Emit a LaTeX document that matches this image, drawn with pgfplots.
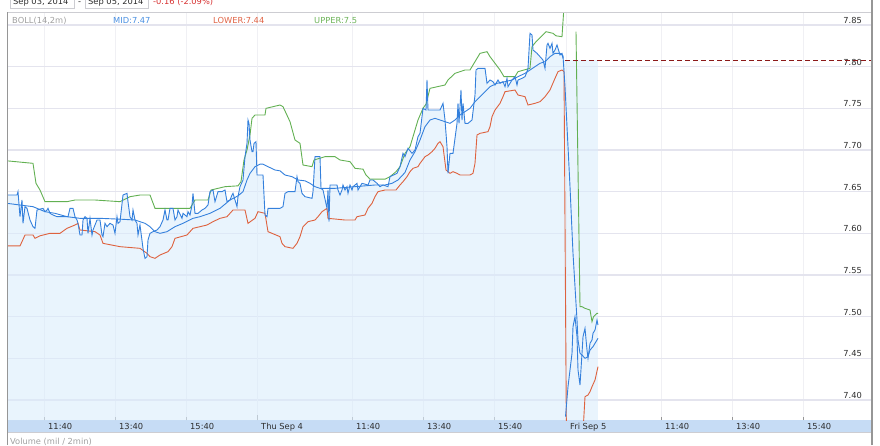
\documentclass[border=0pt]{standalone}
\usepackage{fontspec}
\setmainfont{DejaVu Sans}
\usepackage{pgfplots}
\usepackage{pgfplotstable}
\pgfplotsset{compat=1.18}

\definecolor{midblue}{RGB}{52,128,220}
\definecolor{lowred}{RGB}{222,98,62}
\definecolor{upgreen}{RGB}{98,176,82}
\definecolor{areafill}{RGB}{218,236,252}
\definecolor{hgrid}{RGB}{228,228,238}
\definecolor{vgrid}{RGB}{240,240,244}
\definecolor{dgrid}{RGB}{225,225,232}
\definecolor{band}{RGB}{198,220,245}
\definecolor{prevclose}{RGB}{140,25,25}
\definecolor{txt}{RGB}{45,45,45}
\definecolor{lgray}{RGB}{160,160,160}
\definecolor{borderc}{RGB}{150,150,150}
\definecolor{linec}{RGB}{205,205,210}
\definecolor{negred}{RGB}{215,50,50}
\definecolor{legblue}{RGB}{74,144,226}
\definecolor{legred}{RGB}{224,100,70}
\definecolor{leggreen}{RGB}{110,180,90}

% x = position on the compressed time axis (px), y = price
\pgfplotstableread{
x y
7 7.687
33 7.684
36 7.660
40 7.652
45 7.638
67 7.638
75 7.640
95 7.640
120 7.638
130 7.644
140 7.646
150 7.646
155 7.630
190 7.630
195 7.640
208 7.640
211 7.652
225 7.656
238 7.657
241 7.662
244 7.688
247 7.700
250 7.718
252 7.738
255 7.742
265 7.742
266 7.750
280 7.754
283 7.752
290 7.734
295 7.712
300 7.708
303 7.682
312 7.680
314 7.688
325 7.692
335 7.692
340 7.688
350 7.686
355 7.678
363 7.677
366 7.670
370 7.665
385 7.665
390 7.668
396 7.674
400 7.680
405 7.696
410 7.704
413 7.716
418 7.736
423 7.750
426 7.755
430 7.774
445 7.778
448 7.784
455 7.792
465 7.796
470 7.796
475 7.806
480 7.816
487 7.818
490 7.812
495 7.804
500 7.796
504 7.788
515 7.788
518 7.794
530 7.798
532 7.824
536 7.830
541 7.836
546 7.842
553 7.840
556 7.837
562 7.836
565.5 7.900
570 nan
576 7.842
580 7.512
582 7.512
585 7.510
590 7.508
592 7.494
593.5 7.500
597 7.504
598 7.504
}\tabupper

\pgfplotstableread{
x y
7 7.585
20 7.585
22 7.590
25 7.598
33 7.598
35 7.594
40 7.597
50 7.600
60 7.600
67 7.606
75 7.610
78 7.612
80 7.604
95 7.602
100 7.598
103 7.588
120 7.584
140 7.582
147 7.576
150 7.572
155 7.570
160 7.574
168 7.578
172 7.584
175 7.594
187 7.598
193 7.606
200 7.608
207 7.610
213 7.614
220 7.618
227 7.620
233 7.628
245 7.628
248 7.612
255 7.618
258 7.626
265 7.624
268 7.602
280 7.596
282 7.588
285 7.584
293 7.582
297 7.588
300 7.596
303 7.608
308 7.614
315 7.616
318 7.620
322 7.626
327 7.630
328 7.618
345 7.616
355 7.616
357 7.620
365 7.622
368 7.630
372 7.636
375 7.644
378 7.650
385 7.652
396 7.652
400 7.658
403 7.662
407 7.668
410 7.674
413 7.678
418 7.680
420 7.684
425 7.692
428 7.694
432 7.698
435 7.702
438 7.708
440 7.710
443 7.704
446 7.676
450 7.672
453 7.674
457 7.672
460 7.670
470 7.670
473 7.672
475 7.684
477 7.718
480 7.720
488 7.722
490 7.728
492 7.740
495 7.748
500 7.756
503 7.764
505 7.770
515 7.772
518 7.766
525 7.764
528 7.754
535 7.756
540 7.758
545 7.764
550 7.772
555 7.786
558 7.794
562 7.796
564 7.794
566.5 7.340
570 nan
582 7.340
585 7.404
588 7.406
590 7.410
592 7.416
595 7.424
598 7.440
}\tablower

\pgfplotstableread{
x y
7 7.636
20 7.634
33 7.632
45 7.626
55 7.624
67 7.620
80 7.618
100 7.618
120 7.617
135 7.616
145 7.612
150 7.608
155 7.602
160 7.600
167 7.602
175 7.608
183 7.612
193 7.618
200 7.620
210 7.624
220 7.630
230 7.640
238 7.645
243 7.650
247 7.664
250 7.672
255 7.680
260 7.683
263 7.683
268 7.680
275 7.676
280 7.675
285 7.670
292 7.668
298 7.664
305 7.663
310 7.660
315 7.656
320 7.654
335 7.654
355 7.656
365 7.657
375 7.658
385 7.658
392 7.660
398 7.664
405 7.673
410 7.688
415 7.698
420 7.712
425 7.728
430 7.736
435 7.738
440 7.736
450 7.732
455 7.736
460 7.742
465 7.746
470 7.750
475 7.758
480 7.764
485 7.770
490 7.776
497 7.780
505 7.782
512 7.784
518 7.788
525 7.792
530 7.796
535 7.800
540 7.804
545 7.806
550 7.812
555 7.816
560 7.816
563 7.813
565 7.776
570 7.656
573 7.576
577 7.496
578 7.472
580 7.456
582 7.454
585 7.450
588 7.452
590 7.460
593 7.464
595 7.468
598 7.474
}\tabmid

\pgfplotstableread{
x y
7 7.646
17 7.646
18 7.650
20 7.620
22 7.640
23 7.612
25 7.632
27 7.630
30 7.616
33 7.608
35 7.606
37 7.628
43 7.630
45 7.626
47 7.628
48 7.630
50 7.624
53 7.622
57 7.620
68 7.620
70 7.630
73 7.630
75 7.620
77 7.616
78 7.612
80 7.598
82 7.598
83 7.616
85 7.620
87 7.618
88 7.600
90 7.618
92 7.598
93 7.604
97 7.616
100 7.616
102 7.598
103 7.596
105 7.612
107 7.608
110 7.612
113 7.610
115 7.600
117 7.620
118 7.612
120 7.614
123 7.646
127 7.648
128 7.638
130 7.620
132 7.616
133 7.628
135 7.616
137 7.612
138 7.598
140 7.610
143 7.582
145 7.570
147 7.572
148 7.592
150 7.600
153 7.602
157 7.604
160 7.608
163 7.616
165 7.628
167 7.616
168 7.616
170 7.630
173 7.630
175 7.616
177 7.620
178 7.628
182 7.618
183 7.624
187 7.620
188 7.626
190 7.622
192 7.634
193 7.648
195 7.624
198 7.624
202 7.628
205 7.630
208 7.634
210 7.650
213 7.652
215 7.638
218 7.650
222 7.650
225 7.652
227 7.638
230 7.640
232 7.646
233 7.648
237 7.632
238 7.644
240 7.656
243 7.664
245 7.692
247 7.708
248 7.736
249 7.732
250 7.712
252 7.698
253 7.698
254 7.708
256 7.710
257 7.670
263 7.670
265 7.622
267 7.620
268 7.630
280 7.630
283 7.632
285 7.648
288 7.650
295 7.650
297 7.668
298 7.662
300 7.660
302 7.648
305 7.644
312 7.642
313 7.650
315 7.692
320 7.692
321 7.654
323 7.652
327 7.630
328 7.652
329 7.614
330 7.658
337 7.658
338 7.652
340 7.646
342 7.652
343 7.658
345 7.652
347 7.656
348 7.648
350 7.658
352 7.652
353 7.656
357 7.660
358 7.652
362 7.660
368 7.658
370 7.664
373 7.664
377 7.660
380 7.656
383 7.658
388 7.656
390 7.668
397 7.672
400 7.680
403 7.696
405 7.692
408 7.702
412 7.696
415 7.700
418 7.716
420 7.720
422 7.740
423 7.750
426 7.748
427 7.784
428 7.748
440 7.748
443 7.756
445 7.736
447 7.704
448 7.672
450 7.696
453 7.696
457 7.732
458 7.756
459 7.732
461 7.772
462 7.736
463 7.756
465 7.732
468 7.732
472 7.736
475 7.766
476 7.796
478 7.798
485 7.798
487 7.780
490 7.784
493 7.782
495 7.778
498 7.784
500 7.780
503 7.782
505 7.776
507 7.786
508 7.776
512 7.784
515 7.788
517 7.778
518 7.784
522 7.786
525 7.788
527 7.794
528 7.798
530 7.840
532 7.838
533 7.820
537 7.816
540 7.812
543 7.808
545 7.798
547 7.826
548 7.828
550 7.822
552 7.828
553 7.816
555 7.820
557 7.826
558 7.822
560 7.814
562 7.816
563 7.810
}\tabprice

\pgfplotstableread{
x y
565.5 7.380
568 7.416
572 7.456
573 7.488
575 7.500
577 7.476
578 7.436
580 7.418
582 7.456
583 7.476
585 7.486
587 7.460
588 7.450
590 7.468
592 7.472
593 7.480
595 7.484
597 7.496
598 7.490
}\tabpricec

\begin{document}
\begin{tikzpicture}[x=1pt,y=1pt,font=\fontsize{8.3}{9.6}\selectfont]
\useasboundingbox (0,0) rectangle (880,445);
\fill[band] (7,13) rectangle (872,25);
\begin{axis}[
  at={(7pt,25pt)}, anchor=south west,
  scale only axis, width=865pt, height=408pt,
  xmin=7, xmax=872, ymin=7.376, ymax=7.8656,
  axis line style={draw=none},
  xtick={44,115,186,352,423,494,661,732,803},
  xticklabels={11:40,13:40,15:40,11:40,13:40,15:40,11:40,13:40,15:40},
  extra x ticks={257,566},
  extra x tick labels={Thu Sep 4,Fri Sep 5},
  extra x tick style={major tick length=5pt, grid=major, major grid style={dgrid, line width=0.7pt}},
  xtick pos=bottom, tick align=inside, major tick length=3pt,
  xtick style={borderc, line width=0.6pt},
  xmajorgrids, x grid style={vgrid, line width=0.6pt},
  ytick={7.40,7.45,7.50,7.55,7.60,7.65,7.70,7.75,7.80,7.85},
  yticklabels={7.40,7.45,7.50,7.55,7.60,7.65,7.70,7.75,7.80,7.85},
  ymajorgrids, y grid style={hgrid, line width=1.2pt},
  ytick pos=right, yticklabel pos=right, ytick style={draw=none},
  yticklabel style={anchor=base east, inner sep=0pt, xshift=-10pt, yshift=1.5pt, text=txt},
  xticklabel style={anchor=north west, inner sep=0pt, xshift=4pt, yshift=-3pt, text=txt},
  unbounded coords=jump,
]
\addplot[draw=none, fill=areafill, fill opacity=0.6] table {\tabprice} \closedcycle;
\addplot[draw=none, fill=areafill, fill opacity=0.6] coordinates {(563,7.808) (598,7.808)} \closedcycle;
\addplot[upgreen, line width=0.9pt] table {\tabupper};
\addplot[lowred, line width=0.9pt] table {\tablower};
\addplot[midblue, line width=0.9pt] table {\tabmid};
\addplot[midblue, line width=0.9pt] table {\tabprice};
\addplot[midblue, line width=0.9pt] table {\tabpricec};
\addplot[prevclose, line width=0.8pt, dash pattern=on 5pt off 3pt] coordinates {(565,7.808) (872,7.808)};
\end{axis}
% frame
\draw[linec, line width=0.6pt] (7,433) -- (872,433);
\draw[linec, line width=0.6pt] (7,13) -- (872,13);
\draw[borderc, line width=1pt] (7,0) -- (7,433);
\draw[borderc, line width=1.5pt] (872,0) -- (872,445);
% header (partly cut by the top edge, as in the source)
\draw[linec, line width=0.5pt] (10,437) rectangle (74,452);
\draw[linec, line width=0.5pt] (85,437) rectangle (148,452);
\node[anchor=base west, inner sep=0pt, text=txt] at (13,440) {Sep 03, 2014};
\node[anchor=base, inner sep=0pt, text=txt] at (79.5,440) {-};
\node[anchor=base west, inner sep=0pt, text=txt] at (88,440) {Sep 05, 2014};
\node[anchor=base west, inner sep=0pt, text=negred] at (153,440) {-0.16 (-2.09\%)};
% legend row
\node[anchor=base west, inner sep=0pt, text=lgray] at (12,421) {BOLL(14,2m)};
\node[anchor=base west, inner sep=0pt, text=legblue] at (113,421) {MID:7.47};
\node[anchor=base west, inner sep=0pt, text=legred] at (213,421) {LOWER:7.44};
\node[anchor=base west, inner sep=0pt, text=leggreen] at (314,421) {UPPER:7.5};
% volume pane title (cut by the bottom edge)
\node[anchor=base west, inner sep=0pt, text=lgray] at (10,1) {Volume (mil / 2min)};
\end{tikzpicture}
\end{document}
